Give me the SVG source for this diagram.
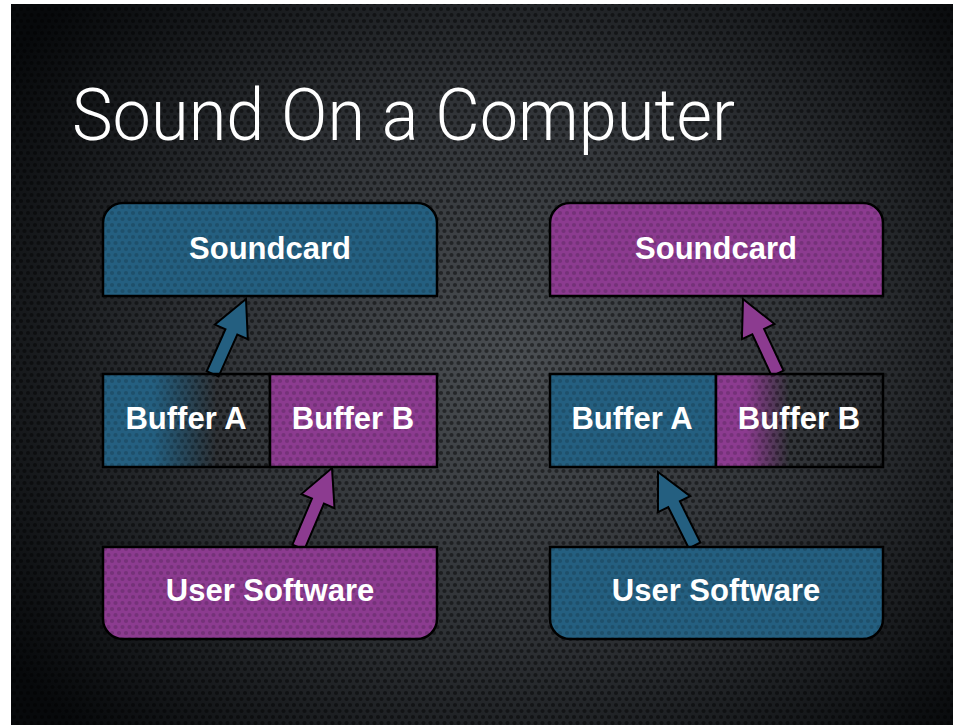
<svg xmlns="http://www.w3.org/2000/svg" width="953" height="725" viewBox="0 0 953 725">
<style>
.box{stroke:#000;stroke-width:2.5}
.blue{fill:#245f80}
.purple{fill:#8c3b90}
.dots{fill:url(#dots2);stroke:none}
.bgdots{fill:url(#dots);stroke:none}
.lbl{font-family:"Liberation Sans",Arial,sans-serif;font-weight:bold;font-size:31px;fill:#fff;text-anchor:middle}
.title{font-family:Roboto,"Liberation Sans",sans-serif;font-weight:300;font-size:72px;fill:#fff}
.arrow{stroke:#000;stroke-width:2;stroke-linejoin:miter}
</style>
<defs>
<radialGradient id="bg" cx="520" cy="360" r="620" gradientUnits="userSpaceOnUse" gradientTransform="translate(520 360) scale(1 0.85) translate(-520 -360)">
<stop offset="0" stop-color="#4a4e52"/>
<stop offset="0.5" stop-color="#303337"/>
<stop offset="1" stop-color="#07090b"/>
</radialGradient>
<pattern id="dots" width="7" height="12" patternUnits="userSpaceOnUse">
<circle cx="3.5" cy="3" r="2.1" fill="#000" fill-opacity="0.45"/>
<circle cx="0" cy="9" r="2.1" fill="#000" fill-opacity="0.45"/>
<circle cx="7" cy="9" r="2.1" fill="#000" fill-opacity="0.45"/>
</pattern>
<pattern id="dots2" width="7" height="12" patternUnits="userSpaceOnUse">
<circle cx="3.5" cy="3" r="2.1" fill="#000" fill-opacity="0.16"/>
<circle cx="0" cy="9" r="2.1" fill="#000" fill-opacity="0.16"/>
<circle cx="7" cy="9" r="2.1" fill="#000" fill-opacity="0.16"/>
</pattern>
<linearGradient id="fadeA" x1="103" y1="0" x2="270" y2="0" gradientUnits="userSpaceOnUse">
<stop offset="0.3" stop-color="#245f80" stop-opacity="1"/>
<stop offset="0.68" stop-color="#245f80" stop-opacity="0"/>
</linearGradient>
<linearGradient id="fadeB" x1="716" y1="0" x2="883" y2="0" gradientUnits="userSpaceOnUse">
<stop offset="0.18" stop-color="#8c3b90" stop-opacity="1"/>
<stop offset="0.44" stop-color="#8c3b90" stop-opacity="0"/>
</linearGradient>
<polygon id="arr82" points="0,0 18,36 6.5,36 6.5,82 -6.5,82 -6.5,36 -18,36"/>
<polygon id="arr86" points="0,0 18,36 6.5,36 6.5,86 -6.5,86 -6.5,36 -18,36"/>
</defs>
<g id="background">
<rect x="0" y="0" width="953" height="725" fill="#fff"/>
<rect x="11" y="4" width="942" height="721" fill="url(#bg)"/>
<rect x="11" y="4" width="942" height="721" class="bgdots"/>
</g>
<text class="title" x="72" y="140" textLength="663" lengthAdjust="spacingAndGlyphs">Sound On a Computer</text>
<g id="connectors">
<use href="#arr82" class="arrow blue" transform="translate(246 299) rotate(24)"/>
<use href="#arr86" class="arrow purple" transform="translate(332 468) rotate(23)"/>
<use href="#arr82" class="arrow purple" transform="translate(743 299) rotate(-25)"/>
<use href="#arr82" class="arrow blue" transform="translate(658 472) rotate(-26.5)"/>
</g>
<g id="soundcard-left">
<path class="box blue" d="M103,296 V223 A20,20 0 0 1 123,203 H417 A20,20 0 0 1 437,223 V296 Z"/>
<path class="dots" d="M103,296 V223 A20,20 0 0 1 123,203 H417 A20,20 0 0 1 437,223 V296 Z"/>
<text class="lbl" x="270" y="259">Soundcard</text>
</g>
<g id="bufferA-left">
<rect class="box" x="103" y="374" width="167" height="93" fill="url(#fadeA)"/>
<rect class="dots" x="104" y="375" width="165" height="91"/>
<text class="lbl" x="186" y="429">Buffer A</text>
</g>
<g id="bufferB-left">
<rect class="box purple" x="270" y="374" width="167" height="93"/>
<rect class="dots" x="271" y="375" width="165" height="91"/>
<text class="lbl" x="353" y="429">Buffer B</text>
</g>
<g id="usersoftware-left">
<path class="box purple" d="M103,547 H437 V619 A20,20 0 0 1 417,639 H123 A20,20 0 0 1 103,619 Z"/>
<path class="dots" d="M103,547 H437 V619 A20,20 0 0 1 417,639 H123 A20,20 0 0 1 103,619 Z"/>
<text class="lbl" x="270" y="601">User Software</text>
</g>
<g id="soundcard-right">
<path class="box purple" d="M550,296 V223 A20,20 0 0 1 570,203 H863 A20,20 0 0 1 883,223 V296 Z"/>
<path class="dots" d="M550,296 V223 A20,20 0 0 1 570,203 H863 A20,20 0 0 1 883,223 V296 Z"/>
<text class="lbl" x="716" y="259">Soundcard</text>
</g>
<g id="bufferA-right">
<rect class="box blue" x="550" y="374" width="166" height="93"/>
<rect class="dots" x="551" y="375" width="164" height="91"/>
<text class="lbl" x="632" y="429">Buffer A</text>
</g>
<g id="bufferB-right">
<rect class="box" x="716" y="374" width="167" height="93" fill="url(#fadeB)"/>
<rect class="dots" x="717" y="375" width="165" height="91"/>
<text class="lbl" x="799" y="429">Buffer B</text>
</g>
<g id="usersoftware-right">
<path class="box blue" d="M550,547 H883 V619 A20,20 0 0 1 863,639 H570 A20,20 0 0 1 550,619 Z"/>
<path class="dots" d="M550,547 H883 V619 A20,20 0 0 1 863,639 H570 A20,20 0 0 1 550,619 Z"/>
<text class="lbl" x="716" y="601">User Software</text>
</g>
</svg>
